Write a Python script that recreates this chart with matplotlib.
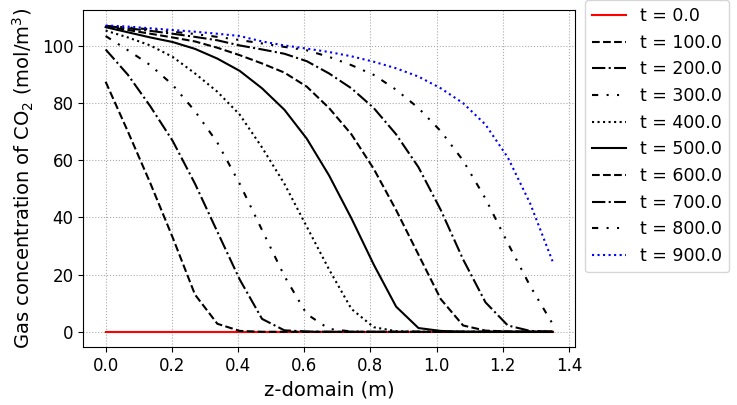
import numpy as np
import matplotlib.pyplot as plt

z = np.linspace(0, 1.35, 21)
times = [0.0, 100.0, 200.0, 300.0, 400.0, 500.0, 600.0, 700.0, 800.0, 900.0]

c0 = [0.0] * 21
c100 = [87.5, 70, 52, 33, 13, 2.8, 0.3, 0, 0, 0, 0, 0, 0, 0, 0, 0, 0, 0, 0, 0, 0]
c200 = [98.8, 89.9, 78.9, 66.8, 51.8, 35, 18.3, 4.5, 0.5, 0.1, 0, 0, 0, 0, 0, 0, 0, 0, 0, 0, 0]
c300 = [103.5, 98.5, 93.3, 86.4, 77.2, 66.2, 51.8, 35.6, 19.5, 6.2, 1.0, 0.1, 0, 0, 0, 0, 0, 0, 0, 0, 0]
c400 = [105.4, 103, 100.2, 96.2, 90.4, 84, 76, 64.5, 51.8, 36.8, 21.8, 8, 1.6, 0.2, 0, 0, 0, 0, 0, 0, 0]
c500 = [106.6, 104.8, 103, 101.4, 99, 95.6, 91.3, 85.2, 77.7, 67.6, 54.7, 39.7, 23.5, 8.8, 1.3, 0.3, 0, 0, 0, 0, 0]
c600 = [106.8, 105.6, 104.3, 103, 101.6, 99.4, 96.8, 93.9, 90.7, 85.8, 78.3, 69.1, 57, 42.6, 27, 11.4, 2.2, 0.4, 0.1, 0, 0]
c700 = [107, 106.2, 105.3, 104.3, 103.2, 102, 100.2, 98.8, 97.3, 94.7, 90.4, 85.2, 78.3, 69.1, 57.6, 42.6, 25.3, 10.3, 2.2, 0.3, 0]
c800 = [107, 106.5, 105.8, 105, 104.2, 103.2, 102.1, 100.9, 99.7, 98.5, 96.2, 93.3, 89.9, 84.7, 78.3, 70.2, 59.9, 46.6, 31, 16, 2.8]
c900 = [107.2, 106.8, 106.2, 105.6, 105, 104.3, 103.5, 101.6, 100.2, 99.1, 97.9, 96.4, 94.5, 92.2, 89.3, 85.2, 80, 72.5, 61, 44.9, 24.7]

series = [c0, c100, c200, c300, c400, c500, c600, c700, c800, c900]
dashdotdot = (0, (3, 4, 1, 4, 1, 4))
styles = ['-', '--', '-.', dashdotdot, ':', '-', '--', '-.', dashdotdot, ':']
colors = ['red'] + ['black'] * 8 + ['blue']

fig, ax = plt.subplots(figsize=(7.37, 4.05), dpi=100)
for t, c, ls, col in zip(times, series, styles, colors):
    ax.plot(z, c, linestyle=ls, color=col, lw=1.5, label='t = %.1f' % t)

ax.set_xlabel('z-domain (m)', fontsize=14)
ax.set_ylabel('Gas concentration of CO$_2$ (mol/m$^3$)', fontsize=14)
ax.tick_params(labelsize=12)
ax.grid(True, linestyle=':', color='#aaaaaa')
ax.legend(loc='upper left', bbox_to_anchor=(1.02, 1.03), borderaxespad=0, fontsize=12.5)
plt.subplots_adjust(left=0.113, right=0.78, top=0.975, bottom=0.143)
plt.savefig('out.png')
